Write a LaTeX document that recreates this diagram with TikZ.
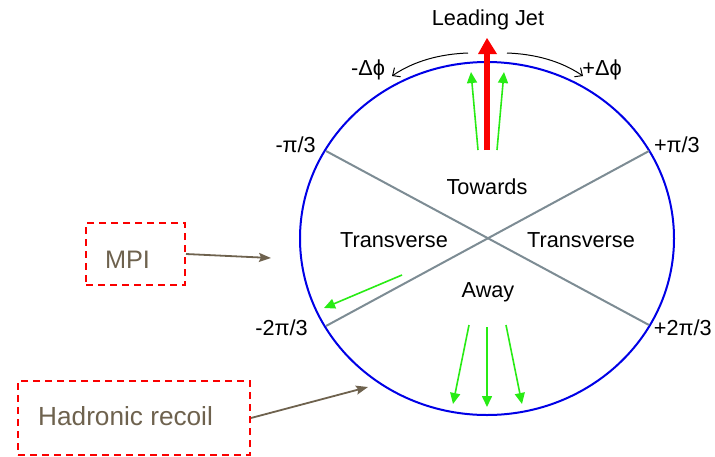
\documentclass[tikz,border=0pt]{standalone}
\usepackage{fontspec}
\setmainfont{Liberation Sans}
\usetikzlibrary{arrows.meta}
\definecolor{ringblue}{RGB}{0,0,230}
\definecolor{divgray}{RGB}{125,140,148}
\definecolor{partgreen}{RGB}{40,235,20}
\definecolor{notebrown}{RGB}{110,98,78}
\definecolor{jetred}{RGB}{250,0,0}
\tikzset{
  lbl/.style={inner sep=0pt, font=\fontsize{21.7}{26}\selectfont},
  notebox/.style={draw=jetred, line width=2pt, dash pattern=on 7pt off 5pt,
    text=notebrown, inner sep=0pt},
  notearrow/.style={draw=notebrown, line width=1.8pt,
    -{Stealth[length=12pt,width=9pt,inset=2pt]}},
  track/.style={draw=partgreen, line width=1.6pt,
    -{Triangle[length=11pt,width=10pt]}},
  divider/.style={draw=divgray, line width=2pt},
  turn/.style={draw=black, line width=1pt, -{Straight Barb[length=6pt,width=11pt]}}
}
\begin{document}
\begin{tikzpicture}[x=1pt,y=-1pt]
\useasboundingbox (0,0) rectangle (715,456);

% event ring
\draw[ringblue, line width=2pt] (487,238.5) ellipse [x radius=187, y radius=176.5];

% region boundaries at +-pi/3 and +-2pi/3
\coordinate (mL) at (326,151);
\coordinate (mR) at (649,151);
\coordinate (nL) at (326,326);
\coordinate (nR) at (649,325);
\draw[divider] (mL) -- (nR);
\draw[divider] (mR) -- (nL);

% leading jet
\coordinate (jb) at (487,150);
\coordinate (jh) at (487,54);
\coordinate (jt) at (487,38);
\draw[jetred, line width=6.5pt] (jb) -- (jh);
\fill[jetred] (478,54) -- (497,54) -- (jt) -- cycle;

% charged particles
\draw[track] (478,150) -- (471,72);
\draw[track] (497,150) -- (504,72);
\draw[track] (469,325) -- (453,404);
\draw[track] (487,327) -- (487,407);
\draw[track] (506,325) -- (522,404);
\draw[track] (402,275) -- (324,308);

% azimuthal direction arcs
\coordinate (aL0) at (468,53);
\coordinate (aL1) at (392,76);
\coordinate (aR0) at (507,53);
\coordinate (aR1) at (583,76);
\draw[turn] (aL0) .. controls (440,54) and (414,61) .. (aL1);
\draw[turn] (aR0) .. controls (535,54) and (561,61) .. (aR1);

% labels
\node[lbl, anchor=base] (jet) at (488,25) {Leading Jet};
\node[lbl, anchor=base] (dm) at (368,75) {-Δϕ};
\node[lbl, anchor=base] (dp) at (602,75) {+Δϕ};
\node[lbl, anchor=base east] (p1m) at (316,152) {-π/3};
\node[lbl, anchor=base east] (p1p) at (700,152) {+π/3};
\node[lbl, anchor=base east] (p2m) at (308,335) {-2π/3};
\node[lbl, anchor=base east] (p2p) at (712,335) {+2π/3};
\node[lbl, anchor=base] (tow) at (487,194) {Towards};
\node[lbl, anchor=base] (trl) at (394,247) {Transverse};
\node[lbl, anchor=base] (trr) at (581,247) {Transverse};
\node[lbl, anchor=base] (away) at (488,297) {Away};

% annotation boxes
\node[notebox, minimum width=99pt, minimum height=62pt] (mpi) at (135.5,254) {};
\node[text=notebrown, inner sep=0pt, font=\fontsize{25.3}{30}\selectfont, anchor=base] (mpit) at (127.5,268) {MPI};
\node[notebox, minimum width=232pt, minimum height=74pt] (hr) at (134,418) {};
\node[text=notebrown, inner sep=0pt, font=\fontsize{26.2}{31}\selectfont, anchor=base west] (hrt) at (38,425) {Hadronic recoil};

\coordinate (mpitip) at (271,258);
\coordinate (hrtip) at (368,387);
\draw[notearrow] (mpi.east) -- (mpitip);
\draw[notearrow] (hr.east) -- (hrtip);
\end{tikzpicture}
\end{document}
